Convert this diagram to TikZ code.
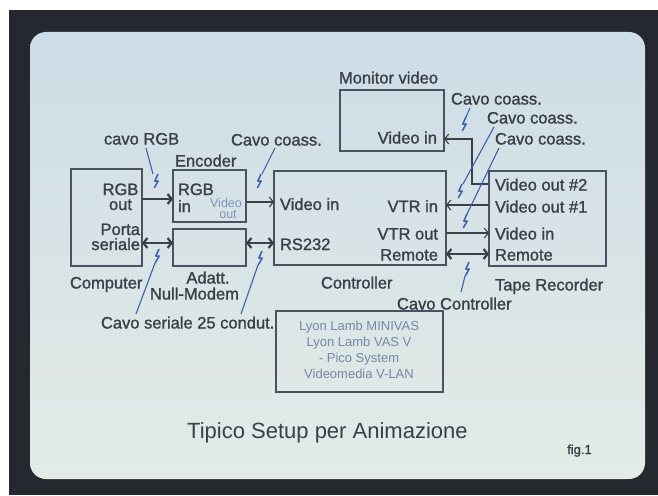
\documentclass[tikz,border=0pt]{standalone}
\usepackage{fontspec}
\setmainfont{Liberation Sans}
\newfontfamily\lblfont{Liberation Sans}[FakeBold=1.3]
\usetikzlibrary{arrows.meta}
\definecolor{scrtop}{HTML}{CDDCE6}
\definecolor{scrbot}{HTML}{E3EBE6}
\definecolor{framec}{HTML}{25292F}
\definecolor{ink}{HTML}{3A3F48}
\definecolor{boxline}{HTML}{4A5162}
\definecolor{cable}{HTML}{3D5FAF}
\definecolor{faint}{HTML}{7587A8}
\definecolor{faintblue}{HTML}{7D95BA}
\tikzset{
  box/.style={draw=boxline,line width=1.3pt,inner sep=0pt,outer sep=0pt,anchor=north west},
  lbl/.style={font=\lblfont\fontsize{16.5}{15}\selectfont,text=ink,inner sep=0pt,outer sep=0pt},
  lyon/.style={font=\fontsize{13}{15}\selectfont,text=faint,inner sep=0pt,outer sep=0pt,anchor=base},
  small/.style={font=\fontsize{12.5}{13}\selectfont,text=faintblue,inner sep=0pt,outer sep=0pt,anchor=base},
  thinarr/.style={draw=ink,line width=1.1pt,-{Straight Barb[length=4pt,width=10pt]}},
  thickarr/.style={draw=ink,line width=2.2pt,-{Straight Barb[length=4pt,width=10pt]}},
  thickdbl/.style={draw=ink,line width=2.2pt,{Straight Barb[length=4pt,width=10pt]}-{Straight Barb[length=4pt,width=10pt]}},
  lead/.style={draw=cable,line width=1.1pt},
  cablebolt/.pic={\draw[cable,line width=1.5pt,line join=round] (2,-7) -- (-1.2,0) -- (2.2,0) -- (-1.8,7);}
}
\begin{document}
\begin{tikzpicture}[x=1pt,y=-1pt]
\useasboundingbox (0,0) rectangle (658,495);
% screen and frame
\fill[white] (0,0) rectangle (658,495);
\fill[framec] (9,10) rectangle (658,495);
\shade[top color=scrtop,bottom color=scrbot,rounded corners=16pt] (30,32) rectangle (645,479);

% boxes
\node[box,minimum width=71pt,minimum height=97pt] (comp) at (71,169) {};
\node[box,minimum width=73pt,minimum height=52pt] (enc) at (173,170) {};
\node[box,minimum width=73pt,minimum height=37pt] (adatt) at (173,229) {};
\node[box,minimum width=172pt,minimum height=94pt] (ctrl) at (274,171) {};
\node[box,minimum width=117pt,minimum height=95pt] (tape) at (489,171) {};
\node[box,minimum width=104pt,minimum height=61pt] (mon) at (340,90) {};
\node[box,minimum width=167pt,minimum height=81pt] (lyonbox) at (276,311) {};

% labels
\node[lbl,anchor=base west] (tmon) at (339,83.5) {Monitor video};
\node[lbl,anchor=base west] (tcc1) at (451,104.5) {Cavo coass.};
\node[lbl,anchor=base west] (tcc2) at (487,123.5) {Cavo coass.};
\node[lbl,anchor=base west] (tcc3) at (495,144.5) {Cavo coass.};
\node[lbl,anchor=base west] (trgbc) at (104,144.5) {cavo RGB};
\node[lbl,anchor=base west] (tccl) at (231,145.5) {Cavo coass.};
\node[lbl,anchor=base west] (tenc) at (175,166.5) {Encoder};
\node[lbl,anchor=base east] (tmvin) at (437,143.5) {Video in};

\node[lbl,anchor=base] (trgbo1) at (120.5,195) {RGB};
\node[lbl,anchor=base] (trgbo2) at (120.5,210) {out};
\node[lbl,anchor=base east] (tporta1) at (140,235) {Porta};
\node[lbl,anchor=base east] (tporta2) at (140,250) {seriale};

\node[lbl,anchor=base west] (trgbi1) at (178,195) {RGB};
\node[lbl,anchor=base west] (trgbi2) at (178,212) {in};
\node[small] (tvo1) at (226,207) {Video};
\node[small] (tvo2) at (228,218) {out};

\node[lbl,anchor=base west] (tcvin) at (280,210) {Video in};
\node[lbl,anchor=base west] (trs) at (280,250) {RS232};
\node[lbl,anchor=base east] (tvtrin) at (438,212) {VTR in};
\node[lbl,anchor=base east] (tvtrout) at (438,239.5) {VTR out};
\node[lbl,anchor=base east] (tcrem) at (438,260.5) {Remote};

\node[lbl,anchor=base west] (tvo2t) at (495,190.5) {Video out \#2};
\node[lbl,anchor=base west] (tvo1t) at (495,212.5) {Video out \#1};
\node[lbl,anchor=base west] (tvit) at (495,239.5) {Video in};
\node[lbl,anchor=base west] (tremt) at (495,260.5) {Remote};

\node[lbl,anchor=base west] (tcomp) at (70,288.5) {Computer};
\node[lbl,anchor=base] (tadatt) at (208,283.5) {Adatt.};
\node[lbl,anchor=base west] (tnull) at (150,299.5) {Null-Modem};
\node[lbl,anchor=base west] (tctrl) at (321,288.5) {Controller};
\node[lbl,anchor=base west] (ttape) at (495,290.5) {Tape Recorder};
\node[lbl,anchor=base west] (tcctrl) at (397,309.5) {Cavo Controller};
\node[lbl,anchor=base west] (tser) at (101,328.5) {Cavo seriale 25 condut.};

\node[lyon] (ly1) at (359,330) {Lyon Lamb MINIVAS};
\node[lyon] (ly2) at (359,346) {Lyon Lamb VAS V};
\node[lyon] (ly3) at (359,362) {- Pico System};
\node[lyon] (ly4) at (359,378) {Videomedia V-LAN};

\node[font=\fontsize{22}{24}\selectfont,text=ink,inner sep=0pt,anchor=base west] (title) at (187,438) {Tipico Setup per Animazione};
\node[font=\lblfont\fontsize{13}{14}\selectfont,text=ink,inner sep=0pt,anchor=base west] (fig) at (567,454) {fig.1};

% connection levels
\coordinate (yrgb) at (0,199);
\coordinate (yser) at (0,243);
\coordinate (yvid) at (0,202);
\coordinate (yvtrin) at (0,205);
\coordinate (yvtrout) at (0,233);
\coordinate (yrem) at (0,254);
\coordinate (ymon) at (0,139);
\coordinate (jog) at (472,184);

\draw[thickarr] (comp.east |- yrgb) -- (enc.west |- yrgb);
\draw[thickdbl] (comp.east |- yser) -- (adatt.west |- yser);
\draw[thinarr] (enc.east |- yvid) -- (ctrl.west |- yvid);
\draw[thickdbl] (adatt.east |- yser) -- (ctrl.west |- yser);
\draw[thinarr] (tape.west |- yvtrin) -- (ctrl.east |- yvtrin);
\draw[thinarr] (ctrl.east |- yvtrout) -- (tape.west |- yvtrout);
\draw[thickdbl] (ctrl.east |- yrem) -- (tape.west |- yrem);
\draw[thinarr] (tape.west |- jog) -- (jog) |- (mon.east |- ymon);

% cable markers
\coordinate (b1) at (156,181);
\coordinate (b2) at (259,181);
\coordinate (b3) at (157,256);
\coordinate (b4) at (260,258);
\coordinate (b5) at (464,124);
\coordinate (b6) at (460,191);
\coordinate (b7) at (465,221);
\coordinate (b8) at (467,269);
\coordinate (e1) at (146,148);
\coordinate (e2) at (275,148);
\coordinate (e3) at (136,314);
\coordinate (e4) at (241,314);
\coordinate (e5) at (470,108);
\coordinate (e6) at (494,127);
\coordinate (e7) at (499,148);
\coordinate (e8) at (461,292);

\draw[lead] (e1) -- (153,174);
\draw[lead] (e2) -- (262,174);
\draw[lead] (155,263) -- (e3);
\draw[lead] (258,265) -- (e4);
\draw[lead] (e5) -- (466,117);
\draw[lead] (e6) -- (463,184);
\draw[lead] (e7) -- (467,214);
\draw[lead] (465,276) -- (e8);
\foreach \b in {b1,b2,b3,b4,b5,b6,b7,b8} { \pic at (\b) {cablebolt}; }
\end{tikzpicture}
\end{document}
